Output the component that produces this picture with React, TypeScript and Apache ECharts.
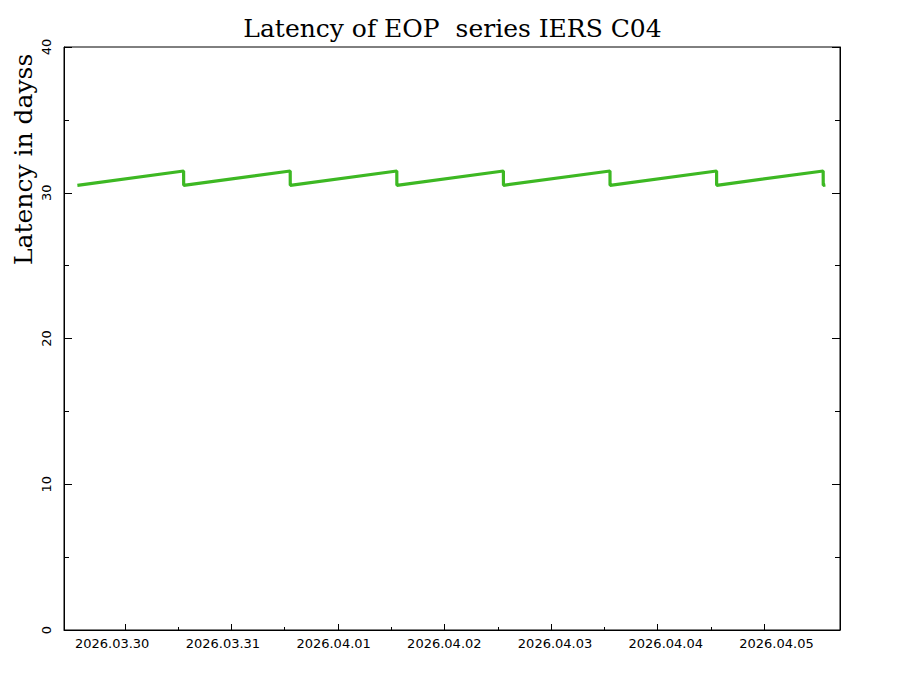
import React, { useEffect, useRef } from "react";
import * as echarts from "echarts";

// ---- data ----
const sampleTimes = [
  "2026-03-29T13:20",
  "2026-03-30T13:15",
  "2026-03-30T13:16",
  "2026-03-31T13:15",
  "2026-03-31T13:16",
  "2026-04-01T13:15",
  "2026-04-01T13:16",
  "2026-04-02T13:15",
  "2026-04-02T13:16",
  "2026-04-03T13:15",
  "2026-04-03T13:16",
  "2026-04-04T13:15",
  "2026-04-04T13:16",
  "2026-04-05T13:15",
  "2026-04-05T13:16",
  "2026-04-05T13:45",
];
const latencyDays = [
  30.51, 31.49, 30.51, 31.49, 30.51, 31.49, 30.51, 31.49, 30.51, 31.49, 30.51,
  31.49, 30.51, 31.49, 30.51, 30.53,
];
const tickDates = [
  "2026-03-30",
  "2026-03-31",
  "2026-04-01",
  "2026-04-02",
  "2026-04-03",
  "2026-04-04",
  "2026-04-05",
];
const tickLabels = [
  "2026.03.30",
  "2026.03.31",
  "2026.04.01",
  "2026.04.02",
  "2026.04.03",
  "2026.04.04",
  "2026.04.05",
];
const yTicks = [0, 10, 20, 30, 40];

const TITLE = "Latency of EOP  series IERS C04";
const Y_NAME = "Latency in dayss";

// ---- layout ----
const W = 905;
const H = 679;
const DAY = 86400000;
const BASE = Date.parse(tickDates[0] + "T00:00Z");
const toDays = (s: string) => (Date.parse(s + "Z") - BASE) / DAY;
const X_MIN = -0.57;
const X_MAX = 6.71;
const LABEL_SHIFT = -0.118; // labels drawn slightly offset from ticks
const LABEL_STEP = 1.0387;
const GREEN = "#3db823";

export default function App() {
  const ref = useRef<HTMLDivElement>(null);
  useEffect(() => {
    if (!ref.current) return;
    const chart = echarts.init(ref.current, null, { renderer: "svg" });
    const data = sampleTimes.map((t, i) => [toDays(t), latencyDays[i]]);
    const majorDays = tickDates.map((d) => toDays(d + "T00:00"));
    const halfDays = majorDays.slice(0, -1).map((d) => d + 0.5);
    const labelPos = tickLabels.map((_, i) => LABEL_SHIFT + LABEL_STEP * i);
    const labelFor = (v: number) => {
      const i = Math.round((v - LABEL_SHIFT) / LABEL_STEP);
      return tickLabels[i] ?? "";
    };
    const black = { color: "#000", width: 1 };
    const gridBox = { left: 64, right: 65, top: 47, bottom: 49 };
    chart.setOption({
      animation: false,
      backgroundColor: "#fff",
      title: {
        text: TITLE,
        left: "center",
        top: 16,
        padding: 0,
        textStyle: {
          fontFamily: "DejaVu Serif",
          fontSize: 25,
          fontWeight: "normal",
          color: "#000",
        },
      },
      graphic: [
        {
          type: "text",
          x: 23,
          y: 265,
          rotation: Math.PI / 2,
          style: {
            text: Y_NAME,
            font: "25px 'DejaVu Serif'",
            fill: "#000",
            textAlign: "left",
            textVerticalAlign: "middle",
          },
        },
      ],
      grid: [
        { ...gridBox, show: true, borderColor: "#000", borderWidth: 1 },
        { ...gridBox, show: false },
      ],
      xAxis: [
        {
          type: "value",
          gridIndex: 0,
          min: X_MIN,
          max: X_MAX,
          position: "bottom",
          axisLine: { show: true, onZero: false, lineStyle: black },
          splitLine: { show: false },
          axisTick: {
            show: true,
            inside: true,
            length: 6,
            customValues: majorDays,
            lineStyle: black,
          },
          axisLabel: {
            show: true,
            customValues: labelPos,
            formatter: (v: number) => labelFor(v),
            fontFamily: "DejaVu Sans",
            fontSize: 13,
            color: "#000",
            margin: 7,
          },
        },
        {
          type: "value",
          gridIndex: 1,
          min: X_MIN,
          max: X_MAX,
          position: "bottom",
          axisLine: { show: false, onZero: false },
          splitLine: { show: false },
          axisTick: {
            show: true,
            inside: true,
            length: 3,
            customValues: halfDays,
            lineStyle: black,
          },
          axisLabel: { show: false },
        },
      ],
      yAxis: [
        {
          type: "value",
          gridIndex: 0,
          min: 0,
          max: 40,
          interval: 10,
          position: "left",
          axisLine: { show: true, onZero: false, lineStyle: black },
          splitLine: { show: false },
          axisTick: { show: true, inside: true, length: 8, lineStyle: black },
          minorTick: { show: true, splitNumber: 2, length: 5, lineStyle: black },
          minorSplitLine: { show: false },
          axisLabel: {
            show: true,
            rotate: 90,
            fontFamily: "DejaVu Sans",
            fontSize: 13,
            color: "#000",
            margin: 11,
            customValues: yTicks,
          },
        },
        {
          type: "value",
          gridIndex: 0,
          min: 0,
          max: 40,
          interval: 10,
          position: "right",
          axisLine: { show: true, onZero: false, lineStyle: black },
          splitLine: { show: false },
          axisTick: { show: true, inside: true, length: 8, lineStyle: black },
          minorTick: { show: true, splitNumber: 2, length: 5, lineStyle: black },
          minorSplitLine: { show: false },
          axisLabel: { show: false },
        },
        {
          type: "value",
          gridIndex: 1,
          min: 0,
          max: 40,
          show: false,
        },
      ],
      series: [
        {
          type: "line",
          xAxisIndex: 0,
          yAxisIndex: 0,
          data,
          showSymbol: false,
          symbol: "none",
          lineStyle: { color: GREEN, width: 3.2 },
          itemStyle: { color: GREEN },
        },
      ],
    });
    return () => chart.dispose();
  }, []);
  return (
    <div
      ref={ref}
      style={{ position: "fixed", left: 0, top: 0, width: W, height: H, background: "#fff" }}
    />
  );
}
